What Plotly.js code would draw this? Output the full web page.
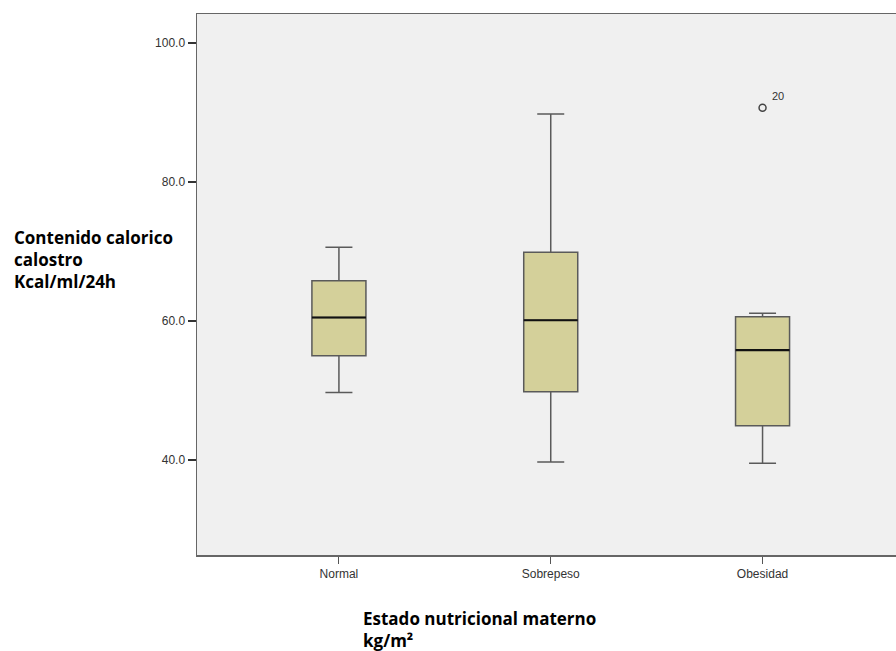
<!DOCTYPE html>
<html>
<head>
<meta charset="utf-8">
<script src="https://cdn.plot.ly/plotly-3.0.1.min.js"></script>
<style>html,body{margin:0;padding:0;background:#fff;}#chart{width:896px;height:651px;}</style>
</head>
<body>
<div id="chart"></div>
<script>
const categories = ["Normal", "Sobrepeso", "Obesidad"];
const lowerWhisker = [49.7, 39.7, 39.5];
const q1Values = [55.0, 49.8, 44.9];
const medianValues = [60.5, 60.1, 55.8];
const q3Values = [65.8, 69.9, 60.6];
const upperWhisker = [70.6, 89.8, 61.1];
const outlierCategory = ["Obesidad"];
const outlierValues = [90.7];
const outlierLabels = ["20"];
const yTicks = [40, 60, 80, 100];

const boxWidth = 0.255;

const boxTrace = {
  type: "box",
  x: categories,
  q1: q1Values,
  median: medianValues,
  q3: q3Values,
  lowerfence: lowerWhisker,
  upperfence: upperWhisker,
  width: boxWidth,
  whiskerwidth: 0.5,
  fillcolor: "#d4d09a",
  line: {color: "#5a5a5a", width: 1.5},
  boxpoints: false,
  hoverinfo: "skip",
  showlegend: false
};

const outlierTrace = {
  type: "scatter",
  mode: "markers",
  x: outlierCategory,
  y: outlierValues,
  marker: {symbol: "circle-open", size: 7, color: "#444", line: {width: 1.5, color: "#444"}},
  showlegend: false,
  hoverinfo: "skip"
};

const shapes = medianValues.map((m, i) => ({
  type: "line", xref: "x", yref: "y",
  x0: i - boxWidth / 2, x1: i + boxWidth / 2, y0: m, y1: m,
  line: {color: "#111", width: 2.2}
}));

const annotations = [
  {
    xref: "x", yref: "y", x: outlierCategory[0], y: outlierValues[0],
    text: outlierLabels[0], showarrow: false, xshift: 15, yshift: 12,
    font: {family: "Liberation Sans, Arial", size: 11, color: "#333"}
  },
  {
    xref: "paper", yref: "paper", x: -0.2647, y: 0.547, xanchor: "left", yanchor: "middle", align: "left",
    text: "<b>Contenido calorico<br>calostro<br>Kcal/ml/24h</b>", showarrow: false,
    font: {family: "Open Sans, Noto Sans", size: 17, color: "#000"}
  },
  {
    xref: "paper", yref: "paper", x: 0.2346, y: -0.092, xanchor: "left", yanchor: "top", align: "left",
    text: "<b>Estado nutricional materno<br>kg/m²</b>", showarrow: false,
    font: {family: "Open Sans, Noto Sans", size: 17, color: "#000"}
  }
];

const layout = {
  width: 896, height: 651,
  margin: {l: 197, r: 0, t: 14, b: 96},
  paper_bgcolor: "#ffffff",
  plot_bgcolor: "#f0f0f0",
  showlegend: false,
  xaxis: {
    type: "category",
    categoryorder: "array", categoryarray: categories,
    range: [-0.67, 2.63],
    showline: true, mirror: true, linecolor: "#666", linewidth: 1.5,
    ticks: "outside", ticklen: 7, tickcolor: "#555", tickwidth: 1,
    showgrid: false, zeroline: false,
    tickfont: {family: "Liberation Sans, Arial", size: 12, color: "#333"}
  },
  yaxis: {
    range: [26.3, 104.2],
    tickvals: yTicks,
    tickformat: ".1f",
    showline: true, mirror: true, linecolor: "#666", linewidth: 1.5,
    ticks: "outside", ticklen: 8, tickcolor: "#333", tickwidth: 2,
    showgrid: false, zeroline: false,
    tickfont: {family: "Liberation Sans, Arial", size: 12, color: "#333"}
  },
  shapes: shapes,
  annotations: annotations
};

Plotly.newPlot("chart", [boxTrace, outlierTrace], layout, {staticPlot: true, displayModeBar: false});
</script>
</body>
</html>
